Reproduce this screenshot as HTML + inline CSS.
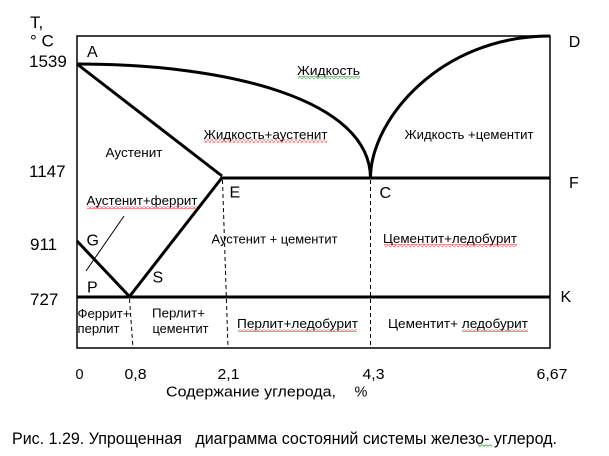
<!DOCTYPE html>
<html><head><meta charset="utf-8">
<style>html,body{margin:0;padding:0;background:#fff;}svg{display:block}</style>
</head><body>
<svg width="609" height="456" viewBox="0 0 609 456" xmlns="http://www.w3.org/2000/svg" font-family="'Liberation Sans', Arial, sans-serif">
<defs>
<pattern id="sqr" width="4" height="3" patternUnits="userSpaceOnUse"><path d="M0,2.5 L2,0.5 L4,2.5" fill="none" stroke="#e03a3a" stroke-width="0.8"/></pattern>
<pattern id="sqg" width="4" height="3" patternUnits="userSpaceOnUse"><path d="M0,2.5 L2,0.5 L4,2.5" fill="none" stroke="#3a9a3a" stroke-width="0.8"/></pattern>
</defs>
<rect width="609" height="456" fill="#fff"/>

<!-- frame -->
<rect x="77" y="36" width="473" height="312" fill="none" stroke="#000" stroke-width="1.5"/>

<!-- curves and lines -->
<g fill="none" stroke="#000" stroke-width="3">
<path d="M77,64 C230,64 370,100 370.5,178"/>
<path d="M370.5,178 C370.5,120 440,36 550,36"/>
<path d="M77,64 L222,176"/>
<path d="M221,178 L550,178"/>
<polyline points="77,241 129.5,296.5 222.5,177" stroke-linejoin="miter"/>
<path d="M77,297 L550,297"/>
</g>
<path d="M86,271 L124,216" stroke="#000" stroke-width="1" fill="none"/>
<g stroke="#000" stroke-width="1" stroke-dasharray="4,3" fill="none">
<path d="M129.5,299 L133,348"/>
<path d="M222.5,180 L228,348"/>
<path d="M370.5,180 L370.5,348"/>
</g>

<!-- axis labels -->
<g font-size="17" fill="#000">
<text x="30" y="28">T,</text>
<text x="30" y="46.5" style="white-space:pre">° C</text>
<text x="29" y="67">1539</text>
<text x="29" y="177">1147</text>
<text x="30" y="250">911</text>
<text x="30" y="305">727</text>
</g>

<!-- point letters -->
<g font-size="16" fill="#000">
<text x="87" y="57">A</text>
<text x="568.7" y="47">D</text>
<text x="569" y="188">F</text>
<text x="379.5" y="198">C</text>
<text x="229.5" y="197.5">E</text>
<text x="560.5" y="302">K</text>
<text x="86.5" y="245.5">G</text>
<text x="87" y="292.5">P</text>
<text x="152.5" y="282.5">S</text>
</g>

<!-- region labels -->
<g font-size="13" fill="#000" lengthAdjust="spacingAndGlyphs" style="white-space:pre">
<text x="297" y="75" textLength="63" lengthAdjust="spacingAndGlyphs">Жидкость</text>
<text x="203.5" y="139" textLength="124" lengthAdjust="spacingAndGlyphs">Жидкость+аустенит</text>
<text x="105.5" y="157" textLength="57" lengthAdjust="spacingAndGlyphs">Аустенит</text>
<text x="404.5" y="139" textLength="129" lengthAdjust="spacingAndGlyphs">Жидкость +цементит</text>
<text x="86.5" y="205" textLength="111" lengthAdjust="spacingAndGlyphs">Аустенит+феррит</text>
<text x="211.5" y="243.5" textLength="126" lengthAdjust="spacingAndGlyphs">Аустенит + цементит</text>
<text x="383" y="243" textLength="134" lengthAdjust="spacingAndGlyphs">Цементит+ледобурит</text>
<text x="77.5" y="318" textLength="53" lengthAdjust="spacingAndGlyphs">Феррит+</text>
<text x="77.5" y="333" textLength="42" lengthAdjust="spacingAndGlyphs">перлит</text>
<text x="152" y="317.5" textLength="53" lengthAdjust="spacingAndGlyphs">Перлит+</text>
<text x="152.5" y="333" textLength="56" lengthAdjust="spacingAndGlyphs">цементит</text>
<text x="237" y="328" textLength="121" lengthAdjust="spacingAndGlyphs">Перлит+ледобурит</text>
<text x="388" y="328" textLength="140" lengthAdjust="spacingAndGlyphs">Цементит+ ледобурит</text>
</g>

<!-- spellcheck squiggles -->
<rect x="298" y="76" width="62" height="3" fill="url(#sqg)"/>
<rect x="204" y="139.5" width="123" height="3" fill="url(#sqr)"/>
<rect x="87" y="206" width="110" height="3" fill="url(#sqr)"/>
<rect x="384" y="244" width="133" height="3" fill="url(#sqr)"/>
<rect x="238" y="329" width="119" height="3" fill="url(#sqr)"/>
<rect x="462" y="329" width="66" height="3" fill="url(#sqr)"/>
<rect x="478" y="444.5" width="14" height="3" fill="url(#sqg)"/>

<!-- x ticks -->
<g font-size="14.5" fill="#000">
<text x="75.5" y="379">0</text>
<text x="124.5" y="379" textLength="22" lengthAdjust="spacingAndGlyphs">0,8</text>
<text x="217.5" y="379" textLength="22" lengthAdjust="spacingAndGlyphs">2,1</text>
<text x="362.5" y="379" textLength="22" lengthAdjust="spacingAndGlyphs">4,3</text>
<text x="536.5" y="379" textLength="31" lengthAdjust="spacingAndGlyphs">6,67</text>
<text x="166" y="396.5" textLength="170" lengthAdjust="spacingAndGlyphs">Содержание углерода,</text>
<text x="354.5" y="396.5">%</text>
</g>

<!-- caption -->
<text x="12" y="444" font-size="16.5" fill="#000" textLength="545" lengthAdjust="spacingAndGlyphs" style="white-space:pre">Рис. 1.29. Упрощенная   диаграмма состояний системы железо- углерод.</text>
</svg>
</body></html>
